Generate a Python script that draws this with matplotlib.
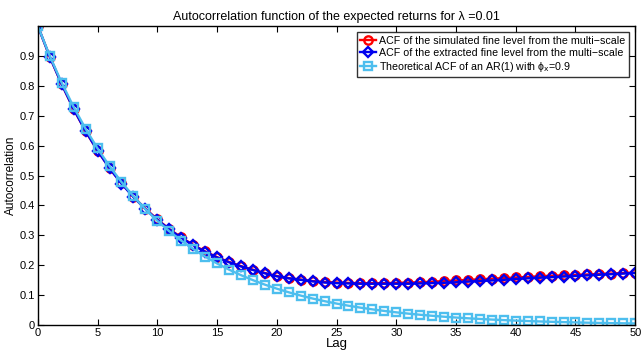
import numpy as np
import matplotlib
matplotlib.use("Agg")
import matplotlib.pyplot as plt

plt.rcParams["font.family"] = ["Liberation Sans", "DejaVu Sans"]

lags = list(range(0, 51))

# ACF of the extracted fine level (blue diamonds)
acf_extracted = [
    1.000, 0.897, 0.805, 0.722, 0.648, 0.583, 0.524, 0.473, 0.428, 0.388,
    0.352, 0.320, 0.292, 0.267, 0.245, 0.226, 0.210, 0.196, 0.184, 0.173,
    0.163, 0.156, 0.151, 0.146, 0.142, 0.140, 0.139, 0.138, 0.138, 0.138,
    0.138, 0.138, 0.139, 0.140, 0.141, 0.143, 0.145, 0.147, 0.149, 0.151,
    0.154, 0.156, 0.158, 0.160, 0.162, 0.164, 0.166, 0.168, 0.170, 0.172,
    0.174,
]

# ACF of the simulated fine level (red circles)
acf_simulated = [
    1.000, 0.897, 0.805, 0.722, 0.648, 0.583, 0.525, 0.474, 0.429, 0.389,
    0.353, 0.321, 0.293, 0.268, 0.246, 0.227, 0.211, 0.197, 0.185, 0.174,
    0.164, 0.157, 0.152, 0.147, 0.144, 0.142, 0.141, 0.140, 0.140, 0.140,
    0.141, 0.142, 0.143, 0.145, 0.147, 0.149, 0.151, 0.153, 0.155, 0.157,
    0.159, 0.161, 0.163, 0.165, 0.166, 0.168, 0.169, 0.171, 0.172, 0.174,
    0.175,
]

# theoretical AR(1) ACF, phi_x = 0.9
phi_x = 0.9
acf_theory = [phi_x ** k for k in lags]

fig = plt.figure(figsize=(6.41, 3.51), dpi=100)
ax = fig.add_axes([0.059, 0.074, 0.932, 0.852])

ax.plot(lags, acf_simulated, color="red", marker="o", markersize=6,
        markerfacecolor="none", markeredgewidth=1.7, linewidth=1.7,
        label="ACF of the simulated fine level from the multi\u2212scale")
ax.plot(lags, acf_extracted, color="#0000ee", marker="D", markersize=5.5,
        markerfacecolor="none", markeredgewidth=1.7, linewidth=1.7,
        label="ACF of the extracted fine level from the multi\u2212scale")
ax.plot(lags, acf_theory, color="#4DBEEE", marker="s", markersize=5.5,
        markerfacecolor="none", markeredgewidth=1.7, linewidth=1.7,
        label="Theoretical ACF of an AR(1) with \u03d5$_{\\rm x}$=0.9")

ax.set_xlim(0, 50)
ax.set_ylim(0, 1)
ax.set_xticks(range(0, 51, 5))
ax.set_yticks([0, 0.1, 0.2, 0.3, 0.4, 0.5, 0.6, 0.7, 0.8, 0.9])
ax.set_yticklabels(["0", "0.1", "0.2", "0.3", "0.4", "0.5", "0.6", "0.7", "0.8", "0.9"])
ax.tick_params(direction="in", top=True, right=True, labelsize=8, length=4, pad=2)
for s in ax.spines.values():
    s.set_linewidth(1)

ax.set_xlabel("Lag", fontsize=9.5, labelpad=0)
ax.set_ylabel("Autocorrelation", fontsize=8.5, labelpad=2)
ax.set_title("Autocorrelation function of the expected returns for \u03bb =0.01",
             fontsize=9, pad=4)

leg = ax.legend(loc="upper right", fontsize=7.7, frameon=True, fancybox=False,
                borderaxespad=0.6, handlelength=1.5, handletextpad=0.3,
                labelspacing=0.2, borderpad=0.3)
leg.get_frame().set_edgecolor("black")
leg.get_frame().set_linewidth(1)

fig.savefig("out.png", dpi=100)
